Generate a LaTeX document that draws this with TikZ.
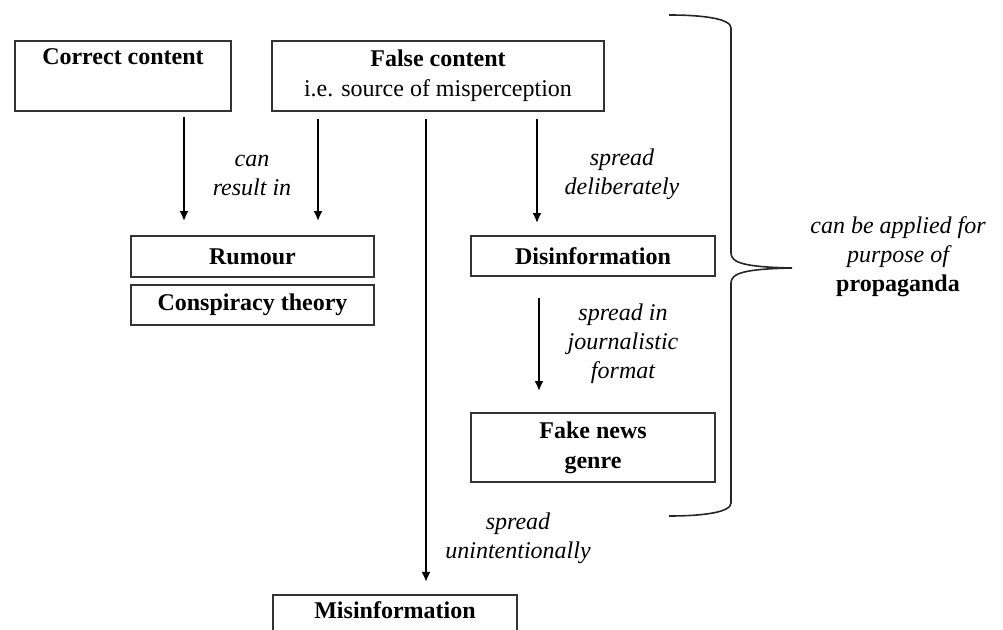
\documentclass[tikz,border=0pt]{standalone}
\usepackage{fontspec}
\setmainfont{Liberation Serif}
\usetikzlibrary{arrows.meta,positioning}

\begin{document}
\begin{tikzpicture}[x=0.5pt, y=-0.5pt,
    every node/.style={font=\fontsize{12pt}{15pt}\selectfont},
    box/.style={draw=black!80, line width=0.9pt, align=center, inner sep=0pt},
    lbl/.style={align=center, font=\fontsize{12pt}{14.5pt}\selectfont\itshape},
    arr/.style={draw=black, line width=1.2pt, -{Latex[length=5pt,width=4.5pt]}}]
        \useasboundingbox (0,0) rectangle (1003,630);

        % boxes
        \node[box, minimum width=108pt, minimum height=35pt] (correct) at (123,76) {\textbf{Correct content}\\ \strut};
        \node[box, minimum width=166pt, minimum height=35pt] (false) at (438,76) {\textbf{False content}\\ i.e. source of misperception};
        \node[box, minimum width=121.5pt, minimum height=20.5pt] (rumour) at (252.5,256.5) {\textbf{Rumour}};
        \node[box, minimum width=121.5pt, minimum height=20pt] (consp) at (252.5,305) {\textbf{Conspiracy theory}};
        \node[box, minimum width=122pt, minimum height=20pt] (disinf) at (593,256) {\textbf{Disinformation}};
        \node[box, minimum width=122pt, minimum height=34.5pt] (fake) at (593,447.5) {\textbf{Fake news}\\ \textbf{genre}};
        \node[box, minimum width=122pt, minimum height=35pt, anchor=north] (misinf) at (395,594) {\textbf{Misinformation}\\ \strut};

        % labels
        \node[lbl] (canres) at (252,175) {can\\ result in};
        \node[lbl] (spreaddel) at (622,174) {spread\\ deliberately};
        \node[lbl] (spreadjour) at (623,344) {spread in\\ journalistic\\ format};
        \node[lbl] (spreadunint) at (518,538) {spread\\ unintentionally};
        \node[lbl] (purpose) at (898,257) {can be applied for\\ purpose of\\ \upshape\textbf{propaganda}};

        % arrows
        \draw[arr, shorten <=2.5pt, shorten >=7pt] ([xshift=30.5pt]correct.south) -- ([xshift=-34.25pt]rumour.north);
        \draw[arr, shorten <=3.5pt, shorten >=7pt] ([xshift=-60pt]false.south) -- ([xshift=32.75pt]rumour.north);
        \draw[arr, shorten <=3.5pt, shorten >=6pt] ([xshift=-6pt]false.south) -- ([xshift=15.5pt]misinf.north);
        \draw[arr, shorten <=3.5pt, shorten >=6pt] ([xshift=49.5pt]false.south) -- ([xshift=-28pt]disinf.north);
        \draw[arr, shorten <=10.5pt, shorten >=10.5pt] ([xshift=-27pt]disinf.south) -- ([xshift=-27pt]fake.north);

        % brace
        \draw[black!85, line width=0.8pt] (669,15) .. controls (705,15) and (731,19) .. (731,28) -- (731,253)
            .. controls (731,263) and (745,267) .. (792,268)
            .. controls (745,269) and (731,273) .. (731,283) -- (731,503)
            .. controls (731,512) and (705,516) .. (669,516);
\end{tikzpicture}
\end{document}
